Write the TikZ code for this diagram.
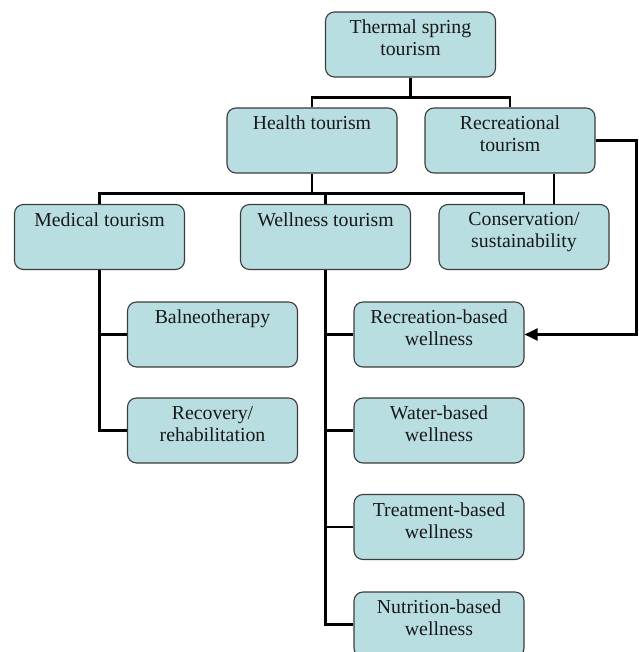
\documentclass[tikz,border=0pt]{standalone}
\usepackage{fontspec}
\setmainfont{Liberation Serif}
\usetikzlibrary{arrows.meta}
\definecolor{boxfill}{RGB}{184,222,226}
\definecolor{boxline}{RGB}{60,60,60}
\tikzset{
  boxst/.style={draw=boxline, line width=1.1pt, fill=boxfill, rounded corners=9pt,
    minimum width=170pt, minimum height=65pt, inner sep=0pt},
  txt/.style={anchor=north, inner sep=0pt, align=center,
    font=\fontsize{19.8}{22}\selectfont, text=black!90},
  tree/.style={line width=2.9pt, line join=miter},
  arr/.style={line width=2.4pt, line join=miter, -{Triangle[length=13pt,width=12pt]}}
}
\newcommand\mybox[3]{%
  \node[boxst] (#1) at (#2) {};
  \node[txt] (#1t) at ([yshift=-8.5pt]#1.north) {#3};}
\begin{document}
\begin{tikzpicture}[x=1pt,y=-1pt]
\useasboundingbox[fill=white] (0,0) rectangle (638,652);
\clip (0,0) rectangle (638,652);
% boxes
\mybox{thermal}{410.5,44.5}{Thermal spring\\tourism}
\mybox{health}{312,140.5}{Health tourism}
\mybox{recr}{510,140.5}{Recreational\\tourism}
\mybox{medical}{99.5,237}{Medical tourism}
\mybox{wellness}{325.5,237}{Wellness tourism}
\mybox{cons}{524,237}{Conservation/\\sustainability}
\mybox{baln}{212.5,334.5}{Balneotherapy}
\mybox{recov}{212.5,430.5}{Recovery/\\rehabilitation}
\mybox{recw}{439,334.5}{Recreation-based\\wellness}
\mybox{water}{439,430.5}{Water-based\\wellness}
\mybox{treat}{439,527}{Treatment-based\\wellness}
\mybox{nutr}{439,624.5}{Nutrition-based\\wellness}
% connectors
\coordinate (j1) at ([yshift=-20pt]thermal.south);
\draw[tree] (thermal.south) -- (j1);
\draw[tree] (health.north) |- (j1) -| (recr.north);
\coordinate (j2) at ([yshift=-20pt]health.south);
\draw[tree] (health.south) -- (j2);
\draw[tree] (medical.north) |- (j2) -| (cons.north);
\draw[tree] (wellness.north) -- (wellness.north |- j2);
\draw[tree] ([xshift=44pt]recr.south) -- ([xshift=30pt]cons.north);
\draw[tree] (medical.south) |- (baln.west);
\draw[tree] (medical.south) |- (recov.west);
\draw[tree] (wellness.south) |- (recw.west);
\draw[tree] (wellness.south) |- (water.west);
\draw[tree] (wellness.south) |- (treat.west);
\draw[tree] (wellness.south) |- (nutr.west);
\coordinate (rc) at ([xshift=41pt]recr.east);
\draw[arr] (recr.east) -- (rc) |- (recw.east);
\end{tikzpicture}
\end{document}
